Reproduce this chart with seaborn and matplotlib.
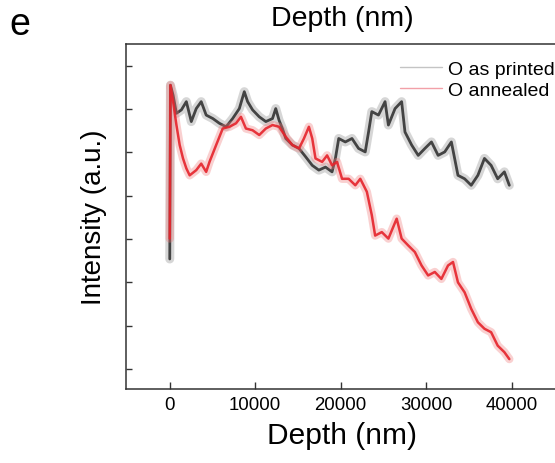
import matplotlib
matplotlib.use("Agg")
import matplotlib.pyplot as plt
import seaborn as sns
import pandas as pd
from matplotlib.lines import Line2D

sns.set_theme(style="white")
plt.rcParams['font.family'] = ['Liberation Sans', 'DejaVu Sans']
plt.rcParams['text.color'] = 'black'
plt.rcParams['axes.labelcolor'] = 'black'
plt.rcParams['xtick.color'] = 'black'
plt.rcParams['ytick.color'] = 'black'

# ---- data ----
printed_depth = [0, 80, 390, 780, 1360, 1940, 2520, 3100, 3680, 4260, 5040, 5810, 6590,
                 7360, 8140, 8720, 9110, 9690, 10470, 11240, 12020, 12400, 12790, 13180,
                 13570, 14340, 15120, 15890, 16670, 17440, 18220, 18990, 19380, 19770,
                 20540, 21320, 22090, 22870, 23260, 23640, 24420, 25190, 25580, 26360,
                 27130, 27520, 28300, 29070, 29850, 30620, 31400, 32170, 32950, 33720,
                 34500, 35270, 36050, 36820, 37600, 38370, 39150, 39730]
printed_int = [2.54, 6.55, 6.32, 5.90, 5.98, 6.17, 5.71, 6.01, 6.17, 5.86, 5.78, 5.67, 5.59,
               5.78, 6.01, 6.40, 6.17, 5.98, 5.82, 5.71, 5.78, 6.01, 5.74, 5.55,
               5.32, 5.17, 5.09, 4.90, 4.70, 4.59, 4.66, 4.55, 4.86, 5.32,
               5.24, 5.32, 5.09, 5.01, 5.47, 5.94, 5.86, 6.17, 5.63, 6.01,
               6.17, 5.47, 5.17, 4.93, 5.09, 5.24, 4.93, 5.01, 5.24, 4.47,
               4.39, 4.24, 4.47, 4.86, 4.70, 4.39, 4.55, 4.24]

annealed_depth = [0, 80, 390, 780, 1160, 1550, 1940, 2330, 3100, 3680, 4260, 4650, 5430,
                  6200, 6980, 7750, 8330, 8910, 9690, 10470, 11240, 12020, 12790, 13570,
                  14340, 15120, 15700, 16280, 16670, 17050, 17830, 18410, 18990, 19570,
                  20160, 20930, 21710, 22290, 23060, 23640, 24030, 24810, 25580, 26550,
                  27130, 27910, 28680, 29460, 30230, 31010, 31780, 32560, 33140, 33720,
                  34500, 35270, 36050, 36820, 37600, 38370, 39150, 39730]
annealed_int = [3.01, 6.55, 6.17, 5.63, 5.17, 4.86, 4.63, 4.47, 4.59, 4.74, 4.55, 4.78, 5.17,
                5.55, 5.59, 5.67, 5.82, 5.55, 5.51, 5.40, 5.55, 5.63, 5.59, 5.36,
                5.17, 5.09, 5.32, 5.59, 5.32, 4.86, 4.78, 4.93, 4.70, 4.78,
                4.39, 4.39, 4.24, 4.39, 4.09, 3.55, 3.08, 3.16, 3.01, 3.47,
                3.01, 2.85, 2.70, 2.39, 2.16, 2.24, 2.08, 2.39, 2.47, 2.00,
                1.77, 1.39, 1.08, 0.93, 0.85, 0.54, 0.39, 0.23]

labels = ["O as printed", "O annealed"]
x_ticks = [0, 10000, 20000, 30000, 40000]
x_ticklabels = ["0", "10000", "20000", "30000", "40000"]

df_p = pd.DataFrame({"depth": printed_depth, "intensity": printed_int})
df_a = pd.DataFrame({"depth": annealed_depth, "intensity": annealed_int})

fig = plt.figure(figsize=(5.55, 4.64), dpi=100)
ax = fig.add_axes([126 / 555, 74 / 464, 0.778, 345 / 464])

# noise envelope (wide, light) + core line
sns.lineplot(data=df_p, x="depth", y="intensity", ax=ax, color="#8c8c8c",
             lw=6.5, alpha=0.35, estimator=None, sort=False)
sns.lineplot(data=df_p, x="depth", y="intensity", ax=ax, color="#333333",
             lw=2.0, alpha=0.9, estimator=None, sort=False)
sns.lineplot(data=df_a, x="depth", y="intensity", ax=ax, color="#f07a7a",
             lw=6.0, alpha=0.35, estimator=None, sort=False)
sns.lineplot(data=df_a, x="depth", y="intensity", ax=ax, color="#e5232b",
             lw=1.8, alpha=0.9, estimator=None, sort=False)

ax.set_xlim(-5120, 45400)
ax.set_ylim(-0.46, 7.5)
ax.set_xticks(x_ticks)
ax.set_xticklabels(x_ticklabels, fontsize=13.4)
ax.set_yticks(range(0, 8))
ax.set_yticklabels([])
ax.tick_params(axis="x", direction="in", length=5, width=1, color="#333333", pad=5)
ax.tick_params(axis="y", direction="in", length=4, width=1, color="#333333")
ax.tick_params(bottom=True, left=True)
for s in ax.spines.values():
    s.set_color("#333333")
    s.set_linewidth(1.1)

ax.set_xlabel("Depth (nm)", fontsize=21.5, labelpad=6)
ax.set_ylabel("Intensity (a.u.)", fontsize=20, labelpad=10)

fig.text(342 / 555, 1 - 19.5 / 464, "Depth (nm)", fontsize=20.5, ha="center", va="center")
fig.text(20 / 555, 1 - 25 / 464, "e", fontsize=27, ha="center", va="center")

handles = [Line2D([], [], color="#c4c4c4", lw=1.0),
           Line2D([], [], color="#f2a0a8", lw=1.0)]
ax.legend(handles, labels, loc="upper left", bbox_to_anchor=(386 / 555, 1 - 48 / 464),
          bbox_transform=fig.transFigure, frameon=False, fontsize=14,
          handlelength=2.2, handletextpad=0.3, labelspacing=0.15, borderpad=0.2)

fig.savefig("out.png", dpi=100)
